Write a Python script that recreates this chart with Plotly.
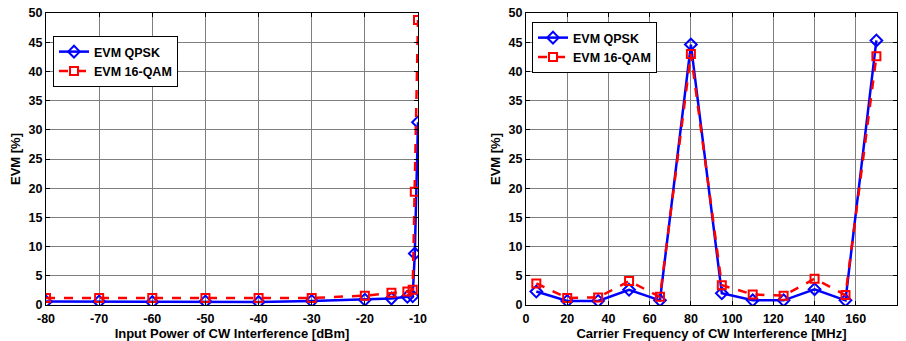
import plotly.graph_objects as go

# Left chart: EVM vs input power of CW interference
power_dbm = [-80, -70, -60, -50, -40, -30, -20, -15, -12, -11, -10.6, -10]
evm_qpsk_power = [0.6, 0.6, 0.5, 0.6, 0.5, 0.7, 0.9, 1.1, 1.4, 1.5, 8.8, 31.3]
evm_16qam_power = [1.2, 1.2, 1.2, 1.2, 1.2, 1.2, 1.6, 2.1, 2.3, 2.6, 19.4, 48.8]

# Right chart: EVM vs carrier frequency of CW interference
freq_mhz = [5, 20, 35, 50, 65, 80, 95, 110, 125, 140, 155, 170]
evm_qpsk_freq = [2.3, 0.7, 0.7, 2.6, 0.8, 44.6, 2.0, 0.8, 0.8, 2.7, 0.8, 45.3]
evm_16qam_freq = [3.7, 1.2, 1.3, 4.1, 1.4, 43.0, 3.4, 1.8, 1.6, 4.5, 1.7, 42.6]

left_xticks = [-80, -70, -60, -50, -40, -30, -20, -10]
left_xlabels = ["-80", "-70", "-60", "-50", "-40", "-30", "-20", "-10"]
right_xticks = list(range(0, 181, 20))
yticks = list(range(0, 51, 5))

FONT = "Liberation Sans"
BLUE = "#0000ff"
RED = "#ff0000"

fig = go.Figure()

def add_pair(x, yq, y16, xa, ya, legend):
    fig.add_trace(go.Scatter(
        x=x, y=yq, name="EVM QPSK", mode="lines+markers",
        line=dict(color=BLUE, width=2.5),
        marker=dict(symbol="diamond-open", size=9, color=BLUE, line=dict(width=2)),
        xaxis=xa, yaxis=ya, legend=legend))
    fig.add_trace(go.Scatter(
        x=x, y=y16, name="EVM 16-QAM", mode="lines+markers",
        line=dict(color=RED, width=2.5, dash="dash"),
        marker=dict(symbol="square-open", size=8, color=RED, line=dict(width=2)),
        xaxis=xa, yaxis=ya, legend=legend))

add_pair(power_dbm, evm_qpsk_power, evm_16qam_power, "x", "y", "legend")
add_pair(freq_mhz, evm_qpsk_freq, evm_16qam_freq, "x2", "y2", "legend2")

H = 341
W = 906
ydom = [1 - 305 / H, 1 - 13 / H]

tickfont = dict(family=FONT, size=12.5, color="black", weight="bold")
axis_common = dict(
    showline=True, linecolor="black", linewidth=1, mirror="ticks",
    ticks="inside", ticklen=4, tickcolor="black",
    showgrid=True, gridcolor="#7f7f7f", gridwidth=1,
    zeroline=False, automargin=False,
    tickfont=tickfont,
)
xaxis_extra = dict(ticklabelstandoff=2)

tfont = dict(family=FONT, size=13, color="black", weight="bold")
lfont = dict(family=FONT, size=12.5, color="black", weight="bold")

fig.update_layout(
    width=W, height=H,
    margin=dict(l=0, r=0, t=0, b=0, autoexpand=False),
    paper_bgcolor="white", plot_bgcolor="white",
    font=dict(family=FONT, color="black"),
    xaxis=dict(domain=[46 / W, 418 / W], range=[-80, -10], tickvals=left_xticks,
               ticktext=left_xlabels,
               title=dict(text="Input Power of CW Interference [dBm]", font=tfont, standoff=0),
               anchor="y", **axis_common, **xaxis_extra),
    yaxis=dict(domain=ydom, range=[0, 50], tickvals=yticks,
               title=dict(text="EVM [%]", font=tfont, standoff=5),
               anchor="x", **axis_common),
    xaxis2=dict(domain=[526 / W, 897 / W], range=[0, 180], tickvals=right_xticks,
                title=dict(text="Carrier Frequency of CW Interference [MHz]", font=tfont, standoff=0),
                anchor="y2", **axis_common, **xaxis_extra),
    yaxis2=dict(domain=ydom, range=[0, 50], tickvals=yticks,
                title=dict(text="EVM [%]", font=tfont, standoff=5),
                anchor="x2", **axis_common),
    legend=dict(x=53 / W, y=1 - 36 / H, xanchor="left", yanchor="top",
                bgcolor="white", bordercolor="black", borderwidth=1,
                font=lfont, tracegroupgap=0, itemwidth=30),
    legend2=dict(x=532 / W, y=1 - 22 / H, xanchor="left", yanchor="top",
                 bgcolor="white", bordercolor="black", borderwidth=1,
                 font=lfont, tracegroupgap=0, itemwidth=30),
    showlegend=True,
)

fig.write_html("out.html")
